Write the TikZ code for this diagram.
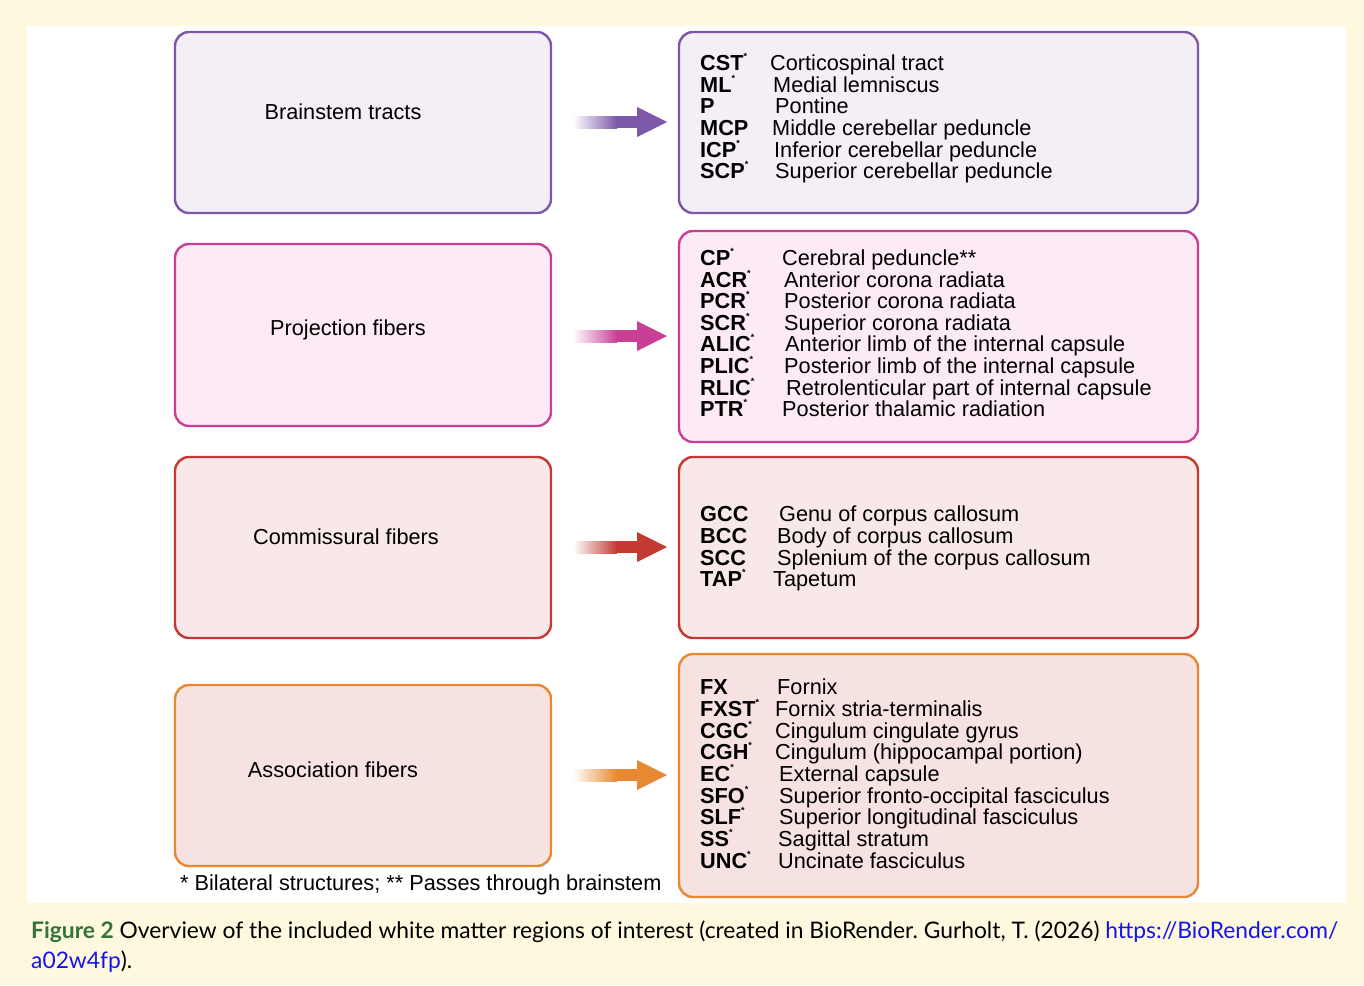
\documentclass[tikz,border=0pt]{standalone}
\usepackage{fontspec}
\setmainfont{Liberation Sans}
\newfontfamily\latofont{Lato}
\definecolor{cream}{RGB}{254,248,222}
\definecolor{cpur}{RGB}{124,88,166}
\definecolor{fpur}{RGB}{244,238,246}
\definecolor{cmag}{RGB}{200,64,150}
\definecolor{fmag}{RGB}{252,234,244}
\definecolor{cred}{RGB}{194,58,50}
\definecolor{fred}{RGB}{248,232,232}
\definecolor{cora}{RGB}{232,136,50}
\definecolor{fora}{RGB}{246,226,224}
\definecolor{figgreen}{RGB}{52,115,56}
\definecolor{linkblue}{RGB}{20,20,235}
\newcommand\st{\raisebox{0.5em}{\fontsize{9}{9}\selectfont\bfseries *}}
\tikzset{
  box/.style={draw, line width=2.4pt, rounded corners=14pt, inner sep=0pt},
  lbl/.style={font=\fontsize{21.7}{21.7}\selectfont, inner sep=0pt},
  ab/.style={font=\fontsize{21.7}{21.7}\selectfont\bfseries, anchor=mid west, inner sep=0pt, yshift=-5.5pt},
  ds/.style={font=\fontsize{21.7}{21.7}\selectfont, anchor=mid west, inner sep=0pt, yshift=-5.5pt},
  captext/.style={anchor=mid west, inner sep=0pt, font=\latofont\frenchspacing\fontsize{22.8}{22.8}\selectfont},
  fat/.pic={
    \shade[left color=white, right color=#1] (0,-6) rectangle (44,6);
    \fill[#1] (43.5,-6) rectangle (65,6);
    \fill[#1] (64,-15) -- (94,0) -- (64,15) -- cycle;
  }
}
\begin{document}
\begin{tikzpicture}[x=1pt,y=-1pt]
\fill[cream] (0,0) rectangle (1364,985);
\fill[white] (27,26) rectangle (1346,903);

% left boxes
\node[box, draw=cpur, fill=fpur, minimum width=376pt, minimum height=181pt] (L1) at (363,122.5) {};
\node[box, draw=cmag, fill=fmag, minimum width=376pt, minimum height=182pt] (L2) at (363,335) {};
\node[box, draw=cred, fill=fred, minimum width=376pt, minimum height=181pt] (L3) at (363,547.5) {};
\node[box, draw=cora, fill=fora, minimum width=376pt, minimum height=181pt] (L4) at (363,775.5) {};
\node[lbl] (t1) at (343,112) {Brainstem tracts};
\node[lbl] (t2) at (348,330) {Projection fibers};
\node[lbl] (t3) at (346,537) {Commissural fibers};
\node[lbl] (t4) at (333,770) {Association fibers};

% right boxes
\node[box, draw=cpur, fill=fpur, minimum width=519pt, minimum height=181pt] (R1) at (938.5,122.5) {};
\node[box, draw=cmag, fill=fmag, minimum width=519pt, minimum height=211pt] (R2) at (938.5,336.5) {};
\node[box, draw=cred, fill=fred, minimum width=519pt, minimum height=181pt] (R3) at (938.5,547.5) {};
\node[box, draw=cora, fill=fora, minimum width=519pt, minimum height=243pt] (R4) at (938.5,775.5) {};

% arrows
\coordinate (a1) at (573,122);
\coordinate (a2) at (573,336);
\coordinate (a3) at (573,547);
\coordinate (a4) at (573,775);
\pic at (a1) {fat=cpur};
\pic at (a2) {fat=cmag};
\pic at (a3) {fat=cred};
\pic at (a4) {fat=cora};

% brainstem list
\node[ab] (b1a) at (700,62) {CST\st};  \node[ds] (b1d) at (770,62) {Corticospinal tract};
\node[ab] (b2a) at (700,84) {ML\st};   \node[ds] (b2d) at (773,84) {Medial lemniscus};
\node[ab] (b3a) at (700,105) {P};     \node[ds] (b3d) at (775,105) {Pontine};
\node[ab] (b4a) at (700,127) {MCP};   \node[ds] (b4d) at (772,127) {Middle cerebellar peduncle};
\node[ab] (b5a) at (700,149) {ICP\st}; \node[ds] (b5d) at (774,149) {Inferior cerebellar peduncle};
\node[ab] (b6a) at (700,170) {SCP\st}; \node[ds] (b6d) at (775,170) {Superior cerebellar peduncle};

% projection list
\node[ab] (p1a) at (700,257) {CP\st};   \node[ds] (p1d) at (782,257) {Cerebral peduncle**};
\node[ab] (p2a) at (700,279) {ACR\st};  \node[ds] (p2d) at (784,279) {Anterior corona radiata};
\node[ab] (p3a) at (700,300) {PCR\st};  \node[ds] (p3d) at (784,300) {Posterior corona radiata};
\node[ab] (p4a) at (700,322) {SCR\st};  \node[ds] (p4d) at (784,322) {Superior corona radiata};
\node[ab] (p5a) at (700,343) {ALIC\st}; \node[ds] (p5d) at (785,343) {Anterior limb of the internal capsule};
\node[ab] (p6a) at (700,365) {PLIC\st}; \node[ds] (p6d) at (784,365) {Posterior limb of the internal capsule};
\node[ab] (p7a) at (700,387) {RLIC\st}; \node[ds] (p7d) at (786,387) {Retrolenticular part of internal capsule};
\node[ab] (p8a) at (700,408) {PTR\st};  \node[ds] (p8d) at (782,408) {Posterior thalamic radiation};

% commissural list
\node[ab] (c1a) at (700,513) {GCC};    \node[ds] (c1d) at (779,513) {Genu of corpus callosum};
\node[ab] (c2a) at (700,535) {BCC};    \node[ds] (c2d) at (777,535) {Body of corpus callosum};
\node[ab] (c3a) at (700,557) {SCC};    \node[ds] (c3d) at (777,557) {Splenium of the corpus callosum};
\node[ab] (c4a) at (700,578) {TAP\st}; \node[ds] (c4d) at (773,578) {Tapetum};

% association list
\node[ab] (s1a) at (700,686) {FX};      \node[ds] (s1d) at (777,686) {Fornix};
\node[ab] (s2a) at (700,708) {FXST\st}; \node[ds] (s2d) at (775,708) {Fornix stria-terminalis};
\node[ab] (s3a) at (700,730) {CGC\st};  \node[ds] (s3d) at (775,730) {Cingulum cingulate gyrus};
\node[ab] (s4a) at (700,751) {CGH\st};  \node[ds] (s4d) at (775,751) {Cingulum (hippocampal portion)};
\node[ab] (s5a) at (700,773) {EC\st};   \node[ds] (s5d) at (779,773) {External capsule};
\node[ab] (s6a) at (700,795) {SFO\st};  \node[ds] (s6d) at (779,795) {Superior fronto-occipital fasciculus};
\node[ab] (s7a) at (700,816) {SLF\st};  \node[ds] (s7d) at (779,816) {Superior longitudinal fasciculus};
\node[ab] (s8a) at (700,838) {SS\st};   \node[ds] (s8d) at (778,838) {Sagittal stratum};
\node[ab] (s9a) at (700,860) {UNC\st};  \node[ds] (s9d) at (778,860) {Uncinate fasciculus};

% footnote
\node[ds] (foot) at (180,882) {* Bilateral structures; ** Passes through brainstem};

% caption
\node[captext] (cap1) at (31,936)
  {{\color{figgreen}\bfseries Figure 2} Overview of the included white matter regions of interest (created in BioRender. Gurholt, T. (2026) {\color{linkblue}https://BioRender.com/}};
\node[captext] (cap2) at (31,966)
  {{\color{linkblue}a02w4fp}).};
\end{tikzpicture}
\end{document}
